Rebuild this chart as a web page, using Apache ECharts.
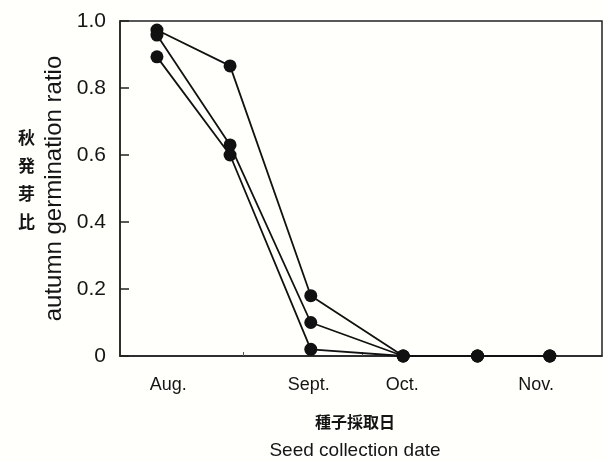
<!DOCTYPE html>
<html>
<head>
<meta charset="utf-8">
<script src="https://cdn.jsdelivr.net/npm/echarts@6/dist/echarts.min.js"></script>
<style>html,body{margin:0;padding:0;background:#fffffc;}#c{width:605px;height:462px;}</style>
</head>
<body>
<div id="c"></div>
<script>
// Data (x: position on a collection-date scale, days-ish from late July)
const collectionDates = [9.2, 27.4, 47.5, 70.5, 89, 107];
const seriesA = [0.973, 0.866, 0.18, 0, 0, 0];
const seriesB = [0.958, 0.63, 0.10, 0, 0, 0];
const seriesC = [0.893, 0.60, 0.02, 0, 0, 0];
const monthPositions = [12, 47, 70.3, 103.6];
const monthLabels = ['Aug.', 'Sept.', 'Oct.', 'Nov.'];
const minorTickPositions = [30.6, 60.2];
const yTickLabels = ['0', '0.2', '0.4', '0.6', '0.8', '1.0'];

const zip = (xs, ys) => xs.map((x, i) => [x, ys[i]]);
const font = 'Liberation Sans, Arial, sans-serif';
const mkSeries = (d) => ({
  type: 'line', data: zip(collectionDates, d), symbol: 'circle', symbolSize: 13,
  clip: false, itemStyle: { color: '#111' }, lineStyle: { color: '#111', width: 1.8 },
  emphasis: { disabled: true }
});

const chart = echarts.init(document.getElementById('c'));
chart.setOption({
  backgroundColor: '#fffffc',
  animation: false,
  grid: { left: 120, top: 21, width: 482, height: 335, show: true, borderColor: '#222', borderWidth: 1.5,
    backgroundColor: 'transparent', containLabel: false, outerBoundsMode: 'none' },
  xAxis: {
    type: 'value', min: 0, max: 120,
    axisLine: { lineStyle: { color: '#222', width: 1.5 } },
    axisTick: { inside: true, length: 4, customValues: minorTickPositions, lineStyle: { color: '#555', width: 1 } },
    axisLabel: { customValues: monthPositions, margin: 20, color: '#151515', fontSize: 18, fontFamily: font,
      formatter: (v) => { const i = monthPositions.findIndex(p => Math.abs(p - v) < 1e-6); return i >= 0 ? monthLabels[i] : ''; } },
    splitLine: { show: false },
    name: '{a|種子採取日}\n{b|Seed collection date}',
    nameLocation: 'middle', nameGap: 51,
    nameTextStyle: { padding: [0, 12, 0, 0], rich: {
      a: { fontSize: 16, fontWeight: 'bold', fontFamily: 'Noto Sans CJK JP', color: '#151515', lineHeight: 30 },
      b: { fontSize: 19, fontFamily: font, color: '#151515', lineHeight: 28 } } }
  },
  yAxis: {
    type: 'value', min: 0, max: 1, interval: 0.2,
    axisLine: { show: true, lineStyle: { color: '#222', width: 1.5 } },
    axisTick: { show: true, inside: true, length: 9, lineStyle: { color: '#222', width: 1.5 } },
    axisLabel: { margin: 14, color: '#151515', fontSize: 21, fontFamily: font,
      formatter: (v) => yTickLabels[Math.round(v / 0.2)] },
    splitLine: { show: false },
    name: 'autumn germination ratio', nameLocation: 'middle', nameRotate: 90, nameGap: 42,
    nameTextStyle: { fontSize: 24, fontFamily: font, color: '#151515', padding: [0, 0, 6, 0] }
  },
  graphic: [{
    type: 'text', left: 18, top: 124,
    style: { text: '秋\n発\n芽\n比', font: 'bold 17px "Noto Sans CJK JP"', fill: '#151515', lineHeight: 28, align: 'center' }
  }],
  series: [mkSeries(seriesA), mkSeries(seriesB), mkSeries(seriesC)]
});
</script>
</body>
</html>
